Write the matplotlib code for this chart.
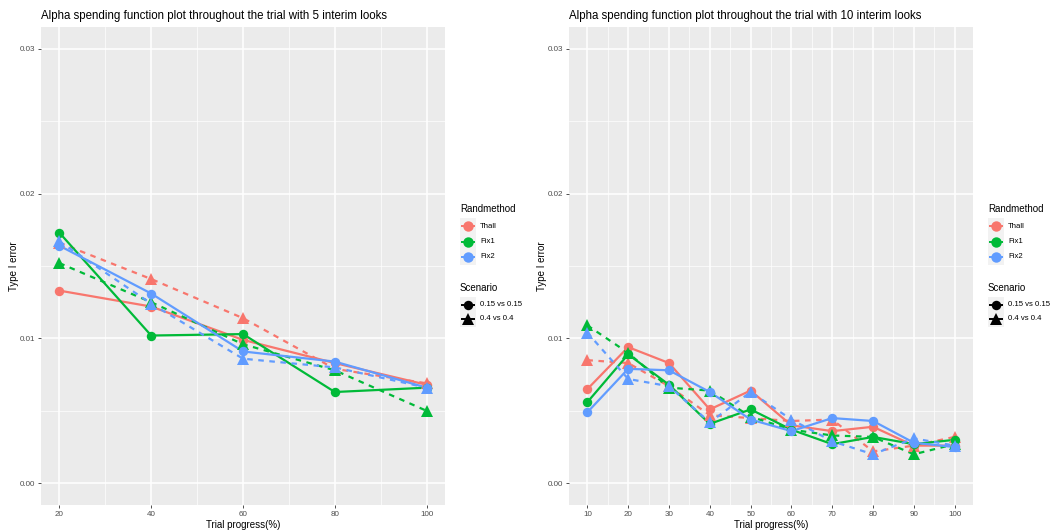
import numpy as np
import matplotlib as mpl
mpl.use('Agg')
import matplotlib.pyplot as plt
from matplotlib.lines import Line2D
from matplotlib.patches import Rectangle

plt.rcParams['font.family'] = ['Liberation Sans', 'DejaVu Sans']

methods = ['Thall', 'Fix1', 'Fix2']
colors = ['#F8766D', '#00BA38', '#619CFF']
scenarios = ['0.15 vs 0.15', '0.4 vs 0.4']

# 5 interim looks
looks5 = [20, 40, 60, 80, 100]
thall_015_5 = [0.0133, 0.0122, 0.0099, 0.0083, 0.0068]
thall_04_5 = [0.0166, 0.0141, 0.0114, 0.0079, 0.0069]
fix1_015_5 = [0.0173, 0.0102, 0.0103, 0.0063, 0.0066]
fix1_04_5 = [0.0152, 0.0125, 0.0096, 0.0078, 0.0050]
fix2_015_5 = [0.0164, 0.0131, 0.0091, 0.0084, 0.0066]
fix2_04_5 = [0.0167, 0.0124, 0.0086, 0.0080, 0.0066]

# 10 interim looks
looks10 = [10, 20, 30, 40, 50, 60, 70, 80, 90, 100]
thall_015_10 = [0.0065, 0.0094, 0.0083, 0.0051, 0.0064, 0.0040, 0.0036, 0.0039, 0.0026, 0.0026]
thall_04_10 = [0.0085, 0.0083, 0.0067, 0.0047, 0.0045, 0.0043, 0.0044, 0.0022, 0.0026, 0.0032]
fix1_015_10 = [0.0056, 0.0089, 0.0068, 0.0041, 0.0051, 0.0037, 0.0027, 0.0032, 0.0027, 0.0030]
fix1_04_10 = [0.0109, 0.0090, 0.0066, 0.0064, 0.0046, 0.0037, 0.0033, 0.0032, 0.0020, 0.0027]
fix2_015_10 = [0.0049, 0.0079, 0.0078, 0.0063, 0.0044, 0.0036, 0.0045, 0.0043, 0.0028, 0.0025]
fix2_04_10 = [0.0104, 0.0072, 0.0067, 0.0042, 0.0063, 0.0044, 0.0029, 0.0020, 0.0031, 0.0026]

panels = [
    ('Alpha spending function plot throughout the trial with 5 interim looks', looks5,
     [[thall_015_5, thall_04_5], [fix1_015_5, fix1_04_5], [fix2_015_5, fix2_04_5]]),
    ('Alpha spending function plot throughout the trial with 10 interim looks', looks10,
     [[thall_015_10, thall_04_10], [fix1_015_10, fix1_04_10], [fix2_015_10, fix2_04_10]]),
]

W, H = 1052, 532
fig = plt.figure(figsize=(W / 100, H / 100), dpi=100)

def px(x, y, w=0, h=0):
    return [x / W, 1 - (y + h) / H, w / W, h / H]

panel_w = 404
ax_boxes = [px(41, 27, panel_w, 478), px(569, 27, panel_w, 478)]
legend_x = [460, 988]

linestyles = ['-', (0, (2.5, 2.5))]
markers = ['o', '^']
msizes = [6.8, 8]

def style_axis(ax, xs):
    ax.set_facecolor('#EBEBEB')
    for s in ax.spines.values():
        s.set_visible(False)
    step = xs[1] - xs[0]
    pad = (xs[-1] - xs[0]) * 0.05
    ax.set_xticks(xs)
    ax.set_xticks(np.arange(xs[0] - step / 2, xs[-1] + step, step), minor=True)
    ax.set_yticks([0, 0.01, 0.02, 0.03])
    ax.set_yticks([0.005, 0.015, 0.025], minor=True)
    ax.set_yticklabels(['0.00', '0.01', '0.02', '0.03'])
    ax.set_xlim(xs[0] - pad, xs[-1] + pad)
    ax.set_ylim(-0.0015, 0.0315)
    ax.grid(which='major', color='white', lw=1.1)
    ax.grid(which='minor', color='white', lw=0.5)
    ax.set_axisbelow(True)
    ax.tick_params(which='major', length=2.5, width=0.6, color='#333333',
                   labelsize=5.8, labelcolor='#4D4D4D', pad=2)
    ax.tick_params(which='minor', length=0)
    ax.set_xlabel('Trial progress(%)', fontsize=7.0, labelpad=1)
    ax.set_ylabel('Type I error', fontsize=7.0)
    ax.yaxis.set_label_coords(-22 / panel_w, 0.5)

def draw_legend(x0):
    def key(y, color, marker, ms):
        fig.add_artist(Rectangle((x0 / W, 1 - (y + 8) / H), 16 / W, 16 / H,
                                 transform=fig.transFigure, fc='#F2F2F2', ec='none'))
        fig.add_artist(Line2D([(x0 + 1) / W, (x0 + 15) / W], [1 - y / H] * 2,
                              transform=fig.transFigure, color=color, lw=1.4,
                              solid_capstyle='butt'))
        fig.add_artist(Line2D([(x0 + 8) / W], [1 - y / H], transform=fig.transFigure,
                              color=color, marker=marker, markersize=ms, lw=0,
                              markeredgewidth=0))
    fig.text(x0 / W, 1 - 209 / H, 'Randmethod', fontsize=7.0, va='center')
    for i, (m, c) in enumerate(zip(methods, colors)):
        y = 226 + i * 15.5
        key(y, c, 'o', 7.5)
        fig.text((x0 + 20) / W, 1 - y / H, m, fontsize=5.6, va='center')
    fig.text(x0 / W, 1 - 288 / H, 'Scenario', fontsize=7.0, va='center')
    for j, s in enumerate(scenarios):
        y = 305 + j * 14
        key(y, 'black', markers[j], msizes[j])
        fig.text((x0 + 20) / W, 1 - y / H, s, fontsize=5.6, va='center')

for (title, xs, series), box, lx in zip(panels, ax_boxes, legend_x):
    ax = fig.add_axes(box)
    style_axis(ax, xs)
    for c, pair in zip(colors, series):
        for j, vals in enumerate(pair):
            ax.plot(xs, vals, color=c, lw=1.6, linestyle=linestyles[j])
    for c, pair in zip(colors, series):
        for j, vals in enumerate(pair):
            ax.plot(xs, vals, color=c, lw=0, marker=markers[j], markersize=msizes[j],
                    markeredgewidth=0)
    ax.set_title(title, fontsize=8.3, loc='left', pad=6)
    draw_legend(lx)

fig.savefig('out.png', dpi=100)
